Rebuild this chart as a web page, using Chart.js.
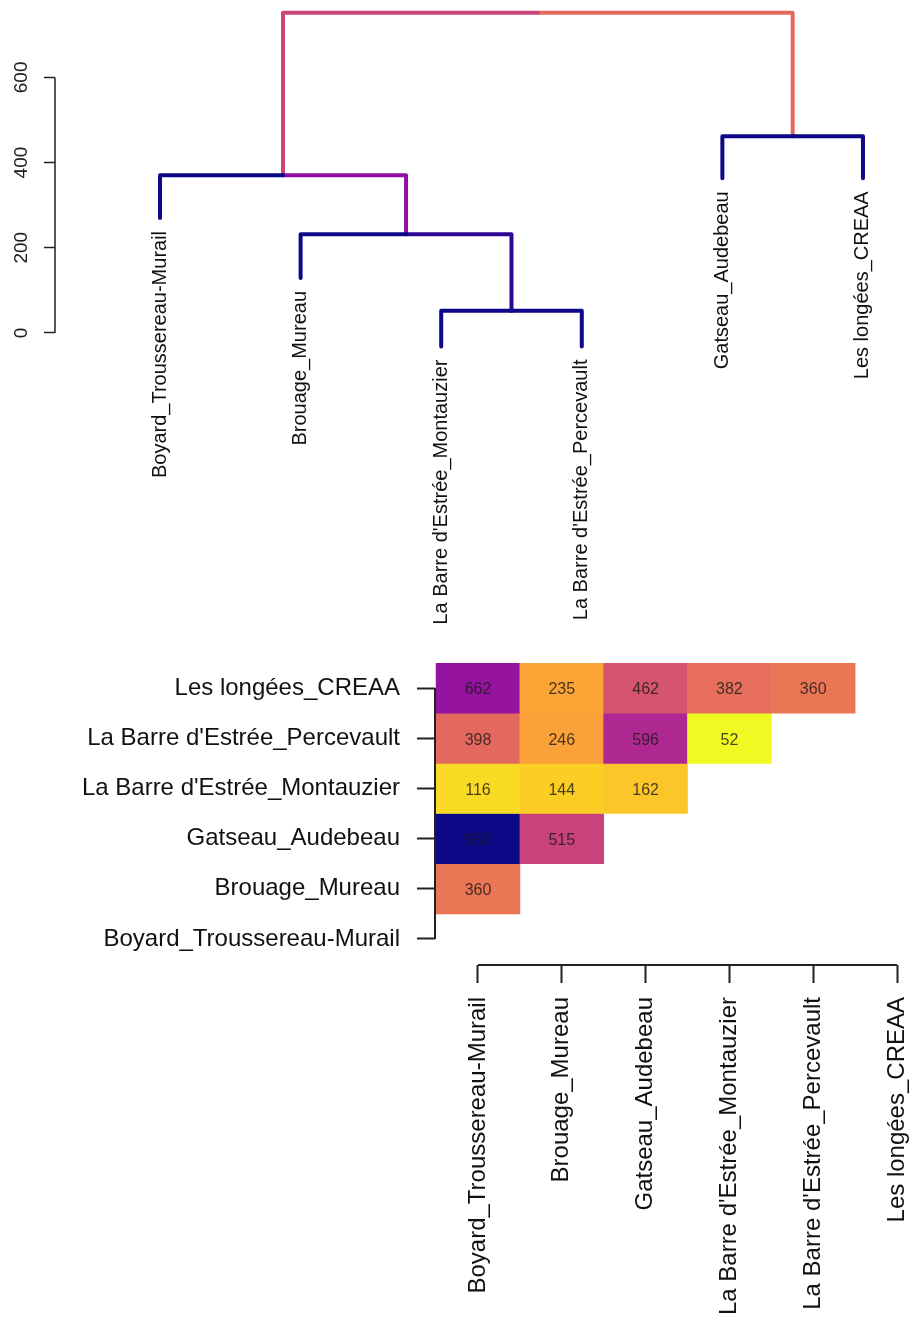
<!DOCTYPE html>
<html>
<head>
<meta charset="utf-8">
<title>Dendrogram and distance matrix</title>
<script src="https://cdn.jsdelivr.net/npm/chart.js@4.4.1/dist/chart.umd.min.js"></script>
<style>
  body { margin: 0; background: #fff; }
  #wrap { position: relative; width: 912px; height: 1322px; }
  canvas { position: absolute; left: 0; }
  #treeChart { top: 0; }
  #matrixChart { top: 645px; }
</style>
</head>
<body>
<div id="wrap">
  <canvas id="treeChart" width="912" height="645"></canvas>
  <canvas id="matrixChart" width="912" height="677"></canvas>
</div>
<script>
// sites, in the order used by the matrix axes
const sites = ['Boyard_Troussereau-Murail', 'Brouage_Mureau', 'Gatseau_Audebeau',
  "La Barre d'Estrée_Montauzier", "La Barre d'Estrée_Percevault", 'Les longées_CREAA'];

// lower triangle of the distance matrix (columns follow sites)
const distBrouage = [360];
const distGatseau = [950, 515];
const distMontauzier = [116, 144, 162];
const distPercevault = [398, 246, 596, 52];
const distLongees = [662, 235, 462, 382, 360];

// hclust style merges: negative = site (1-based), positive = earlier merge
const mergeLeft = [-4, -3, -2, -1, 4];
const mergeRight = [-5, -6, 1, 3, 2];
const mergeHeight = [52, 462, 232, 370, 752];
const leafOrder = [1, 2, 4, 5, 3, 6];
// height where each leaf branch stops (by site)
const leafBottom = [270, 129, 363, -32, -32, 363];

const heightTicks = [0, 200, 400, 600];

const FONT = '"Liberation Sans", Arial, sans-serif';

const plasmaStops = ['#0d0887', '#41049d', '#6a00a8', '#8f0da4', '#b12a90', '#cc4778',
  '#e16462', '#f2844b', '#fca636', '#fcce25', '#f0f921'];

function hexRgb(h) {
  return [1, 3, 5].map(i => parseInt(h.substr(i, 2), 16));
}

function plasma(t) {
  t = Math.max(0, Math.min(1, t));
  const p = t * 10;
  const i = Math.min(9, Math.floor(p));
  const f = p - i;
  const a = hexRgb(plasmaStops[i]), b = hexRgb(plasmaStops[i + 1]);
  return 'rgb(' + [0, 1, 2].map(k => Math.round(a[k] + (b[k] - a[k]) * f)).join(',') + ')';
}

// ---------- dendrogram ----------
const leafPos = {};
leafOrder.forEach((s, i) => { leafPos[s] = i; });
const maxHeight = Math.max(...mergeHeight);

function nodeInfo(id) {
  if (id < 0) {
    return { x: leafPos[-id], h: leafBottom[-id - 1], color: plasma(0) };
  }
  const k = id - 1;
  const l = nodeInfo(mergeLeft[k]);
  const r = nodeInfo(mergeRight[k]);
  return { x: (l.x + r.x) / 2, h: mergeHeight[k], color: plasma(mergeHeight[k] / maxHeight) };
}

const branches = [];
mergeHeight.forEach((h, k) => {
  const parent = nodeInfo(k + 1);
  [mergeLeft[k], mergeRight[k]].forEach(c => {
    const child = nodeInfo(c);
    branches.push({
      data: [{ x: parent.x, y: h }, { x: child.x, y: h }, { x: child.x, y: child.h }],
      borderColor: child.color,
      borderWidth: 4,
      borderCapStyle: 'round',
      borderJoinStyle: 'round',
      showLine: true,
      pointRadius: 0,
      clip: false
    });
  });
});

const treeExtras = {
  id: 'treeExtras',
  afterDraw(chart) {
    const { ctx, chartArea } = chart;
    const x = chart.scales.x, y = chart.scales.y;
    ctx.save();
    // axis line between the outer ticks
    ctx.strokeStyle = '#222';
    ctx.lineWidth = 1.5;
    ctx.beginPath();
    ctx.moveTo(chartArea.left, y.getPixelForValue(heightTicks[0]));
    ctx.lineTo(chartArea.left, y.getPixelForValue(heightTicks[heightTicks.length - 1]));
    ctx.stroke();
    // leaf labels hanging below the branches
    ctx.font = '20px ' + FONT;
    ctx.fillStyle = '#111';
    ctx.textAlign = 'right';
    ctx.textBaseline = 'middle';
    leafOrder.forEach((s, i) => {
      ctx.save();
      ctx.translate(x.getPixelForValue(i), y.getPixelForValue(leafBottom[s - 1]) + 13);
      ctx.rotate(-Math.PI / 2);
      ctx.fillText(sites[s - 1], 0, 0);
      ctx.restore();
    });
    ctx.restore();
  }
};

new Chart(document.getElementById('treeChart'), {
  type: 'scatter',
  data: { datasets: branches },
  options: {
    responsive: false,
    animation: false,
    layout: { padding: { left: 0, top: 5, right: 7, bottom: 5 } },
    plugins: { legend: { display: false }, tooltip: { enabled: false } },
    scales: {
      x: { type: 'linear', display: false, min: -0.747, max: 5.299 },
      y: {
        type: 'linear',
        min: -721,
        max: 770,
        afterBuildTicks: s => { s.ticks = heightTicks.map(v => ({ value: v })); },
        afterFit: s => { s.width = 55; s.paddingTop = 0; s.paddingBottom = 0; },
        border: { display: false },
        grid: { drawOnChartArea: false, drawTicks: true, tickLength: 11, tickWidth: 1.5, tickColor: '#222' },
        ticks: {
          minRotation: 90, maxRotation: 90, crossAlign: 'center', padding: 6,
          color: '#222', font: { family: FONT, size: 19 }
        }
      }
    }
  },
  plugins: [treeExtras]
});

// ---------- distance matrix ----------
const distRows = [[], distBrouage, distGatseau, distMontauzier, distPercevault, distLongees];
const cells = [];
distRows.forEach((row, r) => row.forEach((v, c) => {
  cells.push({ x: [c - 0.5, c + 0.5], y: r, v: v });
}));
const dMin = Math.min(...cells.map(d => d.v));
const dMax = Math.max(...cells.map(d => d.v));

const matrixExtras = {
  id: 'matrixExtras',
  afterDatasetsDraw(chart) {
    const { ctx } = chart;
    const meta = chart.getDatasetMeta(0);
    ctx.save();
    ctx.font = '16px ' + FONT;
    ctx.fillStyle = 'rgba(25,25,25,0.8)';
    ctx.textAlign = 'center';
    ctx.textBaseline = 'middle';
    meta.data.forEach((bar, i) => {
      const p = bar.getCenterPoint();
      ctx.fillText(String(cells[i].v), p.x, p.y + 2);
    });
    ctx.restore();
  },
  afterDraw(chart) {
    const { ctx, chartArea } = chart;
    const x = chart.scales.x, y = chart.scales.y;
    ctx.save();
    ctx.strokeStyle = '#222';
    ctx.lineWidth = 2;
    ctx.beginPath();
    ctx.moveTo(chartArea.left, y.getPixelForValue(0));
    ctx.lineTo(chartArea.left, y.getPixelForValue(sites.length - 1));
    ctx.moveTo(x.getPixelForValue(0), chartArea.bottom);
    ctx.lineTo(x.getPixelForValue(sites.length - 1), chartArea.bottom);
    ctx.stroke();
    ctx.restore();
  }
};

const siteTicks = s => { s.ticks = sites.map((n, i) => ({ value: i })); };
const axisGrid = { drawOnChartArea: false, drawTicks: true, tickLength: 18, tickWidth: 2, tickColor: '#222' };

new Chart(document.getElementById('matrixChart'), {
  type: 'bar',
  data: {
    datasets: [{
      data: cells,
      backgroundColor: cells.map(d => plasma(1 - (d.v - dMin) / (dMax - dMin))),
      borderWidth: 0,
      barPercentage: 1,
      categoryPercentage: 1
    }]
  },
  options: {
    indexAxis: 'y',
    responsive: false,
    animation: false,
    layout: { padding: { left: 0, top: 18, right: 2, bottom: 0 } },
    plugins: { legend: { display: false }, tooltip: { enabled: false } },
    scales: {
      x: {
        type: 'linear',
        position: 'bottom',
        min: -0.513,
        max: 5.155,
        afterBuildTicks: siteTicks,
        afterFit: s => { s.height = 357; s.paddingLeft = 0; s.paddingRight = 0; },
        border: { display: false },
        grid: axisGrid,
        ticks: {
          callback: v => sites[v],
          autoSkip: false, minRotation: 90, maxRotation: 90, padding: 14,
          color: '#111', font: { family: FONT, size: 24 }
        }
      },
      y: {
        type: 'linear',
        offset: false,
        min: -0.52,
        max: 5.5,
        afterBuildTicks: siteTicks,
        afterFit: s => { s.width = 435; s.paddingTop = 0; s.paddingBottom = 0; },
        border: { display: false },
        grid: Object.assign({ offset: false }, axisGrid),
        ticks: {
          callback: v => sites[v],
          autoSkip: false, padding: 17,
          color: '#111', font: { family: FONT, size: 24 }
        }
      }
    }
  },
  plugins: [matrixExtras]
});
</script>
</body>
</html>
